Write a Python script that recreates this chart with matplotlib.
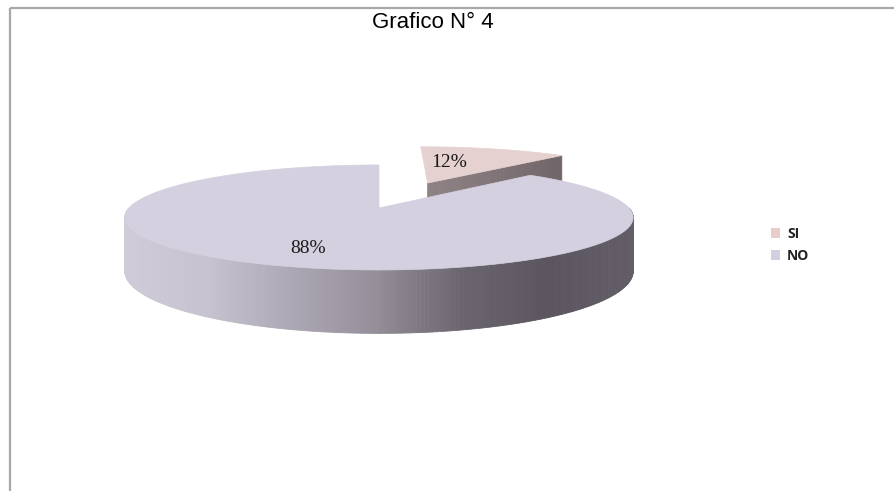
import numpy as np
import matplotlib
matplotlib.use('Agg')
import matplotlib.pyplot as plt
from matplotlib.patches import Polygon, Patch
from matplotlib.colors import LinearSegmentedColormap

# ---- datos ----
labels = ['SI', 'NO']
values = [12, 88]
explode = [0.58, 0.0]
title = 'Grafico N° 4'

top_colors = ['#e5d1cf', '#d4d0df']
legend_colors = ['#e8cdcd', '#d2cfe0']

# ---- geometria del pastel 3D (pixeles) ----
W, H = 894, 491
CX, CY = 379, 208        # centro de la cara superior
RX, RY = 250, 50.8       # radios
PERSP = 0.18             # encogimiento del fondo
DEPTH = 52               # altura del cilindro

wall_cmap = LinearSegmentedColormap.from_list(
    'pared', ['#cfcbd8', '#c6c2cf', '#aca7b4', '#938e98', '#6a656e', '#5a555e', '#625d66'])
si_wall_cmap = LinearSegmentedColormap.from_list('pared_si', ['#8f8285', '#6f6468'])


def proj(X, Y):
    s = 1.0 / (1.0 + PERSP * Y)
    return CX + RX * X * s, CY - RY * Y * s, DEPTH * s


def arc(ox, oy, a0, a1, n=120):
    t = np.radians(np.linspace(a0, a1, n))
    return ox + np.sin(t), oy + np.cos(t)


fig = plt.figure(figsize=(W / 100, H / 100), dpi=100)
ax = fig.add_axes([0, 0, 1, 1])
ax.set_xlim(0, W)
ax.set_ylim(H, 0)
ax.axis('off')

# borde del area del grafico
ax.plot([9.5, W], [7.5, 7.5], color='#a8a8a8', lw=1.6, solid_capstyle='butt')
ax.plot([9.5, 9.5], [7.5, H], color='#a8a8a8', lw=1.6, solid_capstyle='butt')

total = float(sum(values))
angles = np.concatenate([[0], np.cumsum(values) / total * 360])
slices = []
for i, v in enumerate(values):
    a0, a1 = angles[i], angles[i + 1]
    mid = np.radians((a0 + a1) / 2)
    ox, oy = explode[i] * np.sin(mid), explode[i] * np.cos(mid)
    slices.append((a0, a1, ox, oy))

# rebanada SI (separada, al fondo): pared radial + cara superior
a0, a1, ox, oy = slices[0]
t = np.radians(a1)
ex, ey = ox + np.sin(t), oy + np.cos(t)
px = np.linspace(0, 1, 40)
for k in range(len(px) - 1):
    pts = []
    for f in (px[k], px[k + 1]):
        x, y, d = proj(ox + f * (ex - ox), oy + f * (ey - oy))
        pts.append((x, y, d))
    quad = [(pts[0][0], pts[0][1]), (pts[1][0], pts[1][1]),
            (pts[1][0], pts[1][1] + pts[1][2]), (pts[0][0], pts[0][1] + pts[0][2])]
    c = si_wall_cmap(px[k])
    ax.add_patch(Polygon(quad, closed=True, fc=c, ec=c, lw=0.6))

X, Y = arc(ox, oy, a0, a1)
sx, sy, _ = proj(np.r_[ox, X], np.r_[oy, Y])
ax.add_patch(Polygon(np.c_[sx, sy], closed=True, fc=top_colors[0], ec=top_colors[0], lw=0.5))

# rebanada NO: pared exterior frontal con degradado
a0, a1, ox, oy = slices[1]
X, Y = arc(ox, oy, 90, 270, 240)
sx, sy, sd = proj(X, Y)
xmin, xmax = sx.min(), sx.max()
for k in range(len(sx) - 1):
    quad = [(sx[k], sy[k]), (sx[k + 1], sy[k + 1]),
            (sx[k + 1], sy[k + 1] + sd[k + 1]), (sx[k], sy[k] + sd[k])]
    c = wall_cmap((sx[k] - xmin) / (xmax - xmin))
    ax.add_patch(Polygon(quad, closed=True, fc=c, ec=c, lw=0.6))

X, Y = arc(ox, oy, a0, a1, 300)
sx, sy, _ = proj(np.r_[ox, X], np.r_[oy, Y])
ax.add_patch(Polygon(np.c_[sx, sy], closed=True, fc=top_colors[1], ec=top_colors[1], lw=0.5))

# etiquetas de porcentaje
label_r = [0.33, 0.72]
label_nudge = [(-3, -8), (4, 2)]
for i, (a0, a1, ox, oy) in enumerate(slices):
    mid = np.radians((a0 + a1) / 2)
    x, y, _ = proj(ox + label_r[i] * np.sin(mid), oy + label_r[i] * np.cos(mid))
    ax.text(x + label_nudge[i][0], y + label_nudge[i][1], f'{values[i]:.0f}%',
            ha='center', va='center', fontsize=14, family='Liberation Serif', color='#1a1a1a')

ax.text(433, 22, title, ha='center', va='center', fontsize=16,
        family='Liberation Sans', color='#000000')

handles = [Patch(fc=c, ec='none') for c in legend_colors]
leg = ax.legend(handles, labels, loc='upper left', bbox_to_anchor=(758 / W, 1 - 214 / H),
                frameon=False, handlelength=0.7, handleheight=0.7, handletextpad=0.5,
                labelspacing=0.6, prop={'family': 'Open Sans', 'weight': 'bold', 'size': 10})
for txt in leg.get_texts():
    txt.set_color('#222222')

fig.savefig('out.png', dpi=100, facecolor='white')
